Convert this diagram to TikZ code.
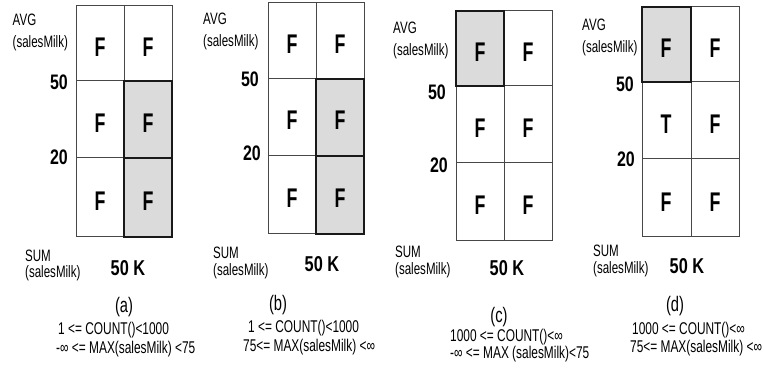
\documentclass[tikz,border=0pt]{standalone}
\usepackage{fontspec}
\setmainfont{Liberation Sans}[FakeStretch=0.7]
\newfontfamily\heavyfam{Liberation Sans}[FakeStretch=0.76]
\newfontfamily\cellfam{Liberation Sans}[FakeStretch=0.66]
\begin{document}
\begin{tikzpicture}[x=1pt,y=-1pt,
  avglbl/.style={font=\fontsize{16.5}{22}\selectfont, inner sep=0pt, anchor=north west, align=left},
  sumlbl/.style={font=\fontsize{16.5}{16.5}\selectfont, inner sep=0pt, anchor=north west, align=left},
  tick/.style={font=\heavyfam\bfseries\fontsize{21}{21}\selectfont, inner sep=0pt, anchor=east},
  val/.style={font=\cellfam\bfseries\fontsize{27}{27}\selectfont, inner sep=0pt},
  sumval/.style={font=\heavyfam\bfseries\fontsize{21.5}{22}\selectfont, inner sep=0pt},
  capt/.style={font=\fontsize{21}{21}\selectfont, inner sep=0pt},
  cond/.style={font=\fontsize{17}{17}\selectfont, inner sep=0pt, anchor=west},
  gridline/.style={draw=black!72, line width=1pt},
  hot/.style={fill=black!14, draw=black!90, line width=1.2pt}]
\useasboundingbox (0,0) rectangle (764,379);
\fill[white] (0,0) rectangle (764,379);

% ---------- panel (a) ----------
\draw[gridline] (76,6) rectangle (172,237);
\draw[gridline] (124,6) -- (124,237);
\draw[gridline] (76,81) -- (172,81);
\draw[gridline] (76,158) -- (172,158);
\draw[hot] (124,81) rectangle (172,158);
\draw[hot] (124,158) rectangle (172,237);
\node[val] (a11) at (100,47) {F};
\node[val] (a12) at (148,47) {F};
\node[val] (a21) at (100,123) {F};
\node[val] (a22) at (148,123) {F};
\node[val] (a31) at (100,201) {F};
\node[val] (a32) at (148,201) {F};
\node[avglbl] (aavg) at (12.5,13.5) {AVG\\(salesMilk)};
\node[tick] (a50) at (68,82) {50};
\node[tick] (a20) at (68,157) {20};
\node[sumlbl] (asum) at (25,249.5) {SUM\\(salesMilk)};
\node[sumval] (ak) at (128,268) {50 K};
\node[capt] (acap) at (124,307) {(a)};
\node[cond] (ac1) at (58,330) {1 <= COUNT()<1000};
\node[cond] (ac2) at (56,349) {-∞ <= MAX(salesMilk) <75};

% ---------- panel (b) ----------
\draw[gridline] (268,3) rectangle (364,234);
\draw[gridline] (316,3) -- (316,234);
\draw[gridline] (268,79) -- (364,79);
\draw[gridline] (268,156) -- (364,156);
\draw[hot] (316,79) rectangle (364,156);
\draw[hot] (316,156) rectangle (364,234);
\node[val] (b11) at (292,44) {F};
\node[val] (b12) at (340,44) {F};
\node[val] (b21) at (292,120) {F};
\node[val] (b22) at (340,120) {F};
\node[val] (b31) at (292,198) {F};
\node[val] (b32) at (340,198) {F};
\node[avglbl] (bavg) at (203,13) {AVG\\(salesMilk)};
\node[tick] (b50) at (259,79) {50};
\node[tick] (b20) at (261,153) {20};
\node[sumlbl] (bsum) at (213,247) {SUM\\(salesMilk)};
\node[sumval] (bk) at (322,264) {50 K};
\node[capt] (bcap) at (278,305) {(b)};
\node[cond] (bc1) at (248,328) {1 <= COUNT()<1000};
\node[cond] (bc2) at (243,347) {75<= MAX(salesMilk) <∞};

% ---------- panel (c) ----------
\draw[gridline] (456,11) rectangle (552,241);
\draw[gridline] (504,11) -- (504,241);
\draw[gridline] (456,86) -- (552,86);
\draw[gridline] (456,163) -- (552,163);
\draw[hot] (456,11) rectangle (504,86);
\node[val] (c11) at (480,52) {F};
\node[val] (c12) at (528,52) {F};
\node[val] (c21) at (480,128) {F};
\node[val] (c22) at (528,128) {F};
\node[val] (c31) at (480,205) {F};
\node[val] (c32) at (528,205) {F};
\node[avglbl] (cavg) at (393,22) {AVG\\(salesMilk)};
\node[tick] (c50) at (446,92) {50};
\node[tick] (c20) at (448,165) {20};
\node[sumlbl] (csum) at (395,246) {SUM\\(salesMilk)};
\node[sumval] (ck) at (507,268) {50 K};
\node[capt] (ccap) at (499,317) {(c)};
\node[cond] (cc1) at (450,337) {1000 <= COUNT()<∞};
\node[cond] (cc2) at (450,354) {-∞ <= MAX (salesMilk)<75};

% ---------- panel (d) ----------
\draw[gridline] (642,7) rectangle (739,237);
\draw[gridline] (691,7) -- (691,237);
\draw[gridline] (642,82) -- (739,82);
\draw[gridline] (642,159) -- (739,159);
\draw[hot] (642,7) rectangle (691,82);
\node[val] (d11) at (666,48) {F};
\node[val] (d12) at (715,48) {F};
\node[val] (d21) at (666,124) {T};
\node[val] (d22) at (715,124) {F};
\node[val] (d31) at (666,202) {F};
\node[val] (d32) at (715,202) {F};
\node[avglbl] (davg) at (582,19) {AVG\\(salesMilk)};
\node[tick] (d50) at (634,84) {50};
\node[tick] (d20) at (635,159) {20};
\node[sumlbl] (dsum) at (593,245) {SUM\\(salesMilk)};
\node[sumval] (dk) at (687,266) {50 K};
\node[capt] (dcap) at (675,306) {(d)};
\node[cond] (dc1) at (632,330) {1000 <= COUNT()<∞};
\node[cond] (dc2) at (630,348) {75<= MAX(salesMilk) <∞};
\end{tikzpicture}
\end{document}
